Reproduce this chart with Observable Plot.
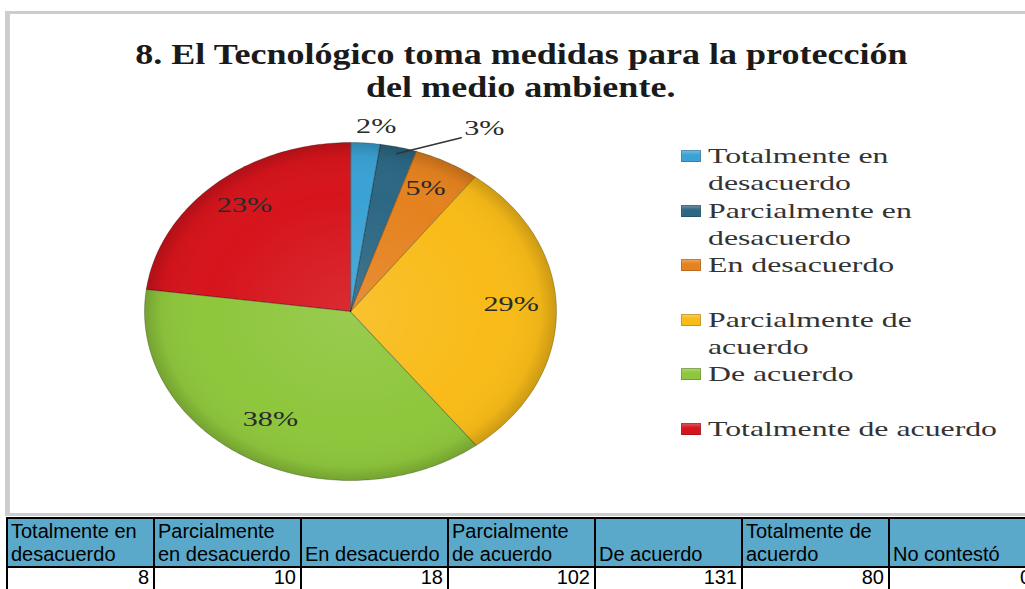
<!DOCTYPE html>
<html><head><meta charset="utf-8">
<script src="https://cdn.jsdelivr.net/npm/d3@7"></script>
<script src="https://cdn.jsdelivr.net/npm/@observablehq/plot@0.6"></script>
<style>
html,body{margin:0;padding:0;background:#fff;}
#wrap{position:relative;width:1025px;height:589px;overflow:hidden;background:#fff;}
#box{position:absolute;left:5px;top:11px;width:1045px;height:505px;border:3px solid #cdcdcd;border-left:5px solid #cdcdcd;box-sizing:border-box;}
#chart{position:absolute;left:0;top:0;}
#title{position:absolute;left:0;top:37px;width:1042px;text-align:center;font-family:"Liberation Serif",serif;font-weight:bold;font-size:30px;line-height:33px;color:#1a1a1a;}
#title span{display:inline-block;transform-origin:center;white-space:nowrap;}
#legend{position:absolute;left:681px;top:142px;}
.item{height:54.6px;position:relative;width:340px;}
.sw{position:absolute;left:0;top:8px;width:20px;height:12px;}
.lt{position:absolute;left:27px;top:0;font-family:"Liberation Serif",serif;font-size:22px;line-height:27px;color:#333;transform-origin:left top;white-space:pre;}
table{position:absolute;left:6px;top:517px;border-collapse:collapse;font-family:"Liberation Sans",Arial,sans-serif;font-size:20px;table-layout:fixed;width:1029px;}
th,td{border:2px solid #000;padding:0 4px 0 3px;overflow:hidden;}
th{background:#5aa9cb;font-weight:normal;text-align:left;vertical-align:bottom;height:47px;line-height:23px;white-space:pre;color:#000;}
td{text-align:right;height:22px;line-height:19px;padding-top:0;vertical-align:top;color:#000;}
</style></head>
<body>
<div id="wrap">
  <div id="box"></div>
  <div id="chart"></div>
  <div id="title"></div>
  <div id="legend"></div>
  <table id="tbl"></table>
</div>
<script>
// ---- data ----
const categories = ["Totalmente en desacuerdo","Parcialmente en desacuerdo","En desacuerdo","Parcialmente de acuerdo","De acuerdo","Totalmente de acuerdo"];
const counts = [8,10,18,102,131,80];
const colors = ["#3aa2d4","#2c6783","#e5821f","#f8bb18","#8ec63c","#d6141c"];
const legendLabels = ["Totalmente en\ndesacuerdo","Parcialmente en\ndesacuerdo","En desacuerdo","Parcialmente de\nacuerdo","De acuerdo","Totalmente de acuerdo"];
const tableHeaders = ["Totalmente en\ndesacuerdo","Parcialmente\nen desacuerdo","En desacuerdo","Parcialmente\nde acuerdo","De acuerdo","Totalmente de\nacuerdo","No contestó"];
const tableValues = [8,10,18,102,131,80,0];
const titleLines = ["8. El Tecnológico toma medidas para la protección","del medio ambiente."];

// ---- helpers ----
function measure(text, font){ const c=document.createElement("canvas").getContext("2d"); c.font=font; return c.measureText(text).width; }
const titleK = 773 / measure(titleLines[0], "bold 30px 'Liberation Serif'");
const legendK = 289 / measure("Totalmente de acuerdo", "22px 'Liberation Serif'");
const polar = (a, r) => ({x: r*Math.sin(a), y: r*Math.cos(a)});

// ---- title ----
const title = document.getElementById("title");
titleLines.forEach(t => { const d=document.createElement("div"); const s=document.createElement("span"); s.textContent=t; s.style.transform=`scaleX(${titleK})`; d.appendChild(s); title.appendChild(d); });

// ---- legend ----
const legend = document.getElementById("legend");
categories.forEach((c,i) => {
  const it=document.createElement("div"); it.className="item";
  const sw=document.createElement("div"); sw.className="sw"; sw.style.background=colors[i];
  sw.style.boxShadow="inset 0 0 0 1px rgba(0,0,0,0.2), inset 0 3px 3px rgba(255,255,255,0.25)";
  const lt=document.createElement("div"); lt.className="lt"; lt.textContent=legendLabels[i]; lt.style.transform=`scaleX(${legendK})`;
  it.appendChild(sw); it.appendChild(lt); legend.appendChild(it);
});

// ---- table ----
const tbl = document.getElementById("tbl");
const cg = document.createElement("colgroup");
tableHeaders.forEach(()=>{ const col=document.createElement("col"); col.style.width="147px"; cg.appendChild(col); });
tbl.appendChild(cg);
const trh=document.createElement("tr"); tableHeaders.forEach(h=>{ const th=document.createElement("th"); th.textContent=h; trh.appendChild(th); }); tbl.appendChild(trh);
const trd=document.createElement("tr"); tableValues.forEach(v=>{ const td=document.createElement("td"); td.textContent=v; trd.appendChild(td); }); tbl.appendChild(trd);

// ---- pie geometry from data ----
const total = d3.sum(counts);
const arcs = d3.pie().sort(null).value(d=>d)(counts);
const pts = [], rim = [];
arcs.forEach((a,i)=>{
  pts.push({cat:categories[i], x:0, y:0});
  const n = Math.max(2, Math.ceil((a.endAngle-a.startAngle)/(Math.PI/180)));
  for(let k=0;k<=n;k++){ const t=a.startAngle+(a.endAngle-a.startAngle)*k/n; const p=polar(t,1); pts.push({cat:categories[i], ...p}); rim.push(p); }
});
const pct = arcs.map((a,i)=>({cat:categories[i], text: Math.round(counts[i]/total*100)+"%", mid:(a.startAngle+a.endAngle)/2}));
const deg = Math.PI/180;
const inner = pct.slice(2).map(d=>({...d, ...polar(d.mid, 0.78)}));
const out2 = [{...pct[0], ...polar(pct[0].mid, 1.06)}];
const leaderEnd = polar(pct[1].mid + 14.2*deg, 1.16);
const leader = [{...polar(pct[1].mid, 0.96)}, leaderEnd];
const out3 = [{...pct[1], ...leaderEnd}];

const cx=350, cy=311, rx=206, ry=169;
const lblFont = {fontFamily:"Liberation Serif", fontSize:22, fill:"#2a2a2a"};
const plot = Plot.plot({
  width:1025, height:515, margin:0,
  x:{domain:[-1,1], range:[cx-rx, cx+rx], axis:null},
  y:{domain:[-1,1], range:[cy+ry, cy-ry], axis:null},
  color:{domain:categories, range:colors},
  marks:[
    Plot.line(pts, {x:"x", y:"y", z:"cat", fill:"cat", stroke:"none", curve:"linear-closed"}),
    Plot.line(rim, {x:"x", y:"y", fill:"url(#pieShade)", stroke:"none", curve:"linear-closed"}),
    Plot.line(pts, {x:"x", y:"y", z:"cat", fill:"none", stroke:"#000", strokeOpacity:0.22, strokeWidth:1, curve:"linear-closed"}),
    Plot.line(leader, {x:"x", y:"y", stroke:"#333", strokeWidth:1.5}),
    Plot.text(inner, {x:"x", y:"y", text:"text", ...lblFont}),
    Plot.text(out2, {x:"x", y:"y", text:"text", dx:10, ...lblFont}),
    Plot.text(out3, {x:"x", y:"y", text:"text", textAnchor:"start", dx:3, dy:-3, ...lblFont})
  ]
});
plot.style.background="transparent";
document.getElementById("chart").appendChild(plot);
// radial shading (3D-like bevel)
const NS="http://www.w3.org/2000/svg";
const defs=document.createElementNS(NS,"defs");
const rg=document.createElementNS(NS,"radialGradient");
rg.setAttribute("id","pieShade"); rg.setAttribute("gradientUnits","userSpaceOnUse");
rg.setAttribute("cx",cx); rg.setAttribute("cy",cy); rg.setAttribute("r",rx);
rg.setAttribute("gradientTransform",`translate(${cx},${cy}) scale(1,${ry/rx}) translate(${-cx},${-cy})`);
[[0,"#fff",0.10],[0.7,"#fff",0],[0.92,"#000",0.04],[1,"#000",0.18]].forEach(([o,c,a])=>{const s=document.createElementNS(NS,"stop"); s.setAttribute("offset",o); s.setAttribute("stop-color",c); s.setAttribute("stop-opacity",a); rg.appendChild(s);});
defs.appendChild(rg); plot.insertBefore(defs, plot.firstChild);
plot.querySelectorAll('g[aria-label="text"] text').forEach(t=>{
  const tr=t.getAttribute("transform")||"";
  const x=t.getAttribute("x"), y=t.getAttribute("y");
  let pre = tr;
  if(x!==null||y!==null){ pre += ` translate(${+x||0},${+y||0})`; t.removeAttribute("x"); t.removeAttribute("y"); }
  t.setAttribute("transform", pre + ` scale(${legendK*0.95},1)`);
});
</script>
</body></html>
